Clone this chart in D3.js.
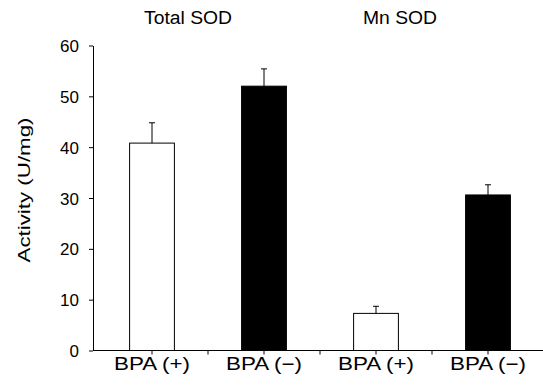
<!DOCTYPE html>
<html>
<head>
<meta charset="utf-8">
<script src="https://cdn.jsdelivr.net/npm/d3@7"></script>
<style>
  body { margin: 0; background: #fff; }
  text { font-family: "Liberation Sans", Arial, sans-serif; fill: #000; }
</style>
</head>
<body>
<svg id="chart" width="543" height="392"></svg>
<script>
// data
var categories = ["BPA (+) total", "BPA (-) total", "BPA (+) mn", "BPA (-) mn"];
var labels = ["BPA (+)", "BPA (\u2212)", "BPA (+)", "BPA (\u2212)"];
var activity = [40.8, 52.0, 7.3, 30.6];
var errTop = [44.8, 55.4, 8.7, 32.6];
var treated = [true, false, true, false];
var yTicks = [0, 10, 20, 30, 40, 50, 60];
var groupTitles = ["Total SOD", "Mn SOD"];

var svg = d3.select("#chart");

var x = d3.scaleBand()
  .domain(categories)
  .range([96, 544])
  .padding(0);

var y = d3.scaleLinear()
  .domain([0, 60])
  .range([350.5, 45.5]);

var barW = x.bandwidth() * 0.4;

// y axis
var yAxis = d3.axisLeft(y)
  .tickValues(yTicks)
  .tickSize(4)
  .tickPadding(10)
  .tickSizeOuter(0);

var gy = svg.append("g")
  .attr("transform", "translate(93,0)")
  .call(yAxis);
gy.selectAll("text").style("font-size", "17px").attr("dy", "0.36em");
gy.select(".domain").attr("stroke", "#000");

// x axis line + ticks at centers and band edges
svg.append("line")
  .attr("x1", 93).attr("x2", 543)
  .attr("y1", y(0)).attr("y2", y(0))
  .attr("stroke", "#000");

var xTicks = [];
categories.forEach(function(c, i) {
  xTicks.push(x(c) + x.bandwidth() / 2);
  if (i > 0) xTicks.push(x(c));
});

svg.selectAll(".xtick")
  .data(xTicks)
  .enter().append("line")
  .attr("class", "xtick")
  .attr("x1", function(d) { return d; })
  .attr("x2", function(d) { return d; })
  .attr("y1", y(0))
  .attr("y2", y(0) + 4)
  .attr("stroke", "#000");

// bars
svg.selectAll(".bar")
  .data(activity)
  .enter().append("rect")
  .attr("class", "bar")
  .attr("x", function(d, i) { return x(categories[i]) + x.bandwidth() / 2 - barW / 2; })
  .attr("y", function(d) { return y(d); })
  .attr("width", barW)
  .attr("height", function(d) { return y(0) - y(d); })
  .attr("fill", function(d, i) { return treated[i] ? "#fff" : "#000"; })
  .attr("stroke", "#000")
  .attr("stroke-width", 1);

// error bars (upper only)
var eb = svg.selectAll(".err")
  .data(errTop)
  .enter().append("g")
  .attr("class", "err")
  .attr("transform", function(d, i) { return "translate(" + (x(categories[i]) + x.bandwidth() / 2) + ",0)"; });

eb.append("line")
  .attr("x1", 0).attr("x2", 0)
  .attr("y1", function(d, i) { return y(activity[i]); })
  .attr("y2", function(d) { return y(d); })
  .attr("stroke", "#000");

eb.append("line")
  .attr("x1", -3).attr("x2", 3)
  .attr("y1", function(d) { return y(d); })
  .attr("y2", function(d) { return y(d); })
  .attr("stroke", "#000");

// category labels
svg.selectAll(".xlab")
  .data(labels)
  .enter().append("text")
  .attr("class", "xlab")
  .attr("x", function(d, i) { return x(categories[i]) + x.bandwidth() / 2; })
  .attr("y", 370)
  .attr("text-anchor", "middle")
  .attr("textLength", 76)
  .attr("lengthAdjust", "spacingAndGlyphs")
  .style("font-size", "18px")
  .text(function(d) { return d; });

// group titles
svg.selectAll(".title")
  .data(groupTitles)
  .enter().append("text")
  .attr("class", "title")
  .attr("x", function(d, i) { return i === 0 ? 188 : 400; })
  .attr("y", 24)
  .attr("text-anchor", "middle")
  .attr("textLength", function(d, i) { return i === 0 ? 88 : 74; })
  .attr("lengthAdjust", "spacingAndGlyphs")
  .style("font-size", "18px")
  .text(function(d) { return d; });

// y label
svg.append("text")
  .attr("transform", "translate(30,190) rotate(-90)")
  .attr("text-anchor", "middle")
  .attr("textLength", 145)
  .attr("lengthAdjust", "spacingAndGlyphs")
  .style("font-size", "17px")
  .text("Activity (U/mg)");
</script>
</body>
</html>
